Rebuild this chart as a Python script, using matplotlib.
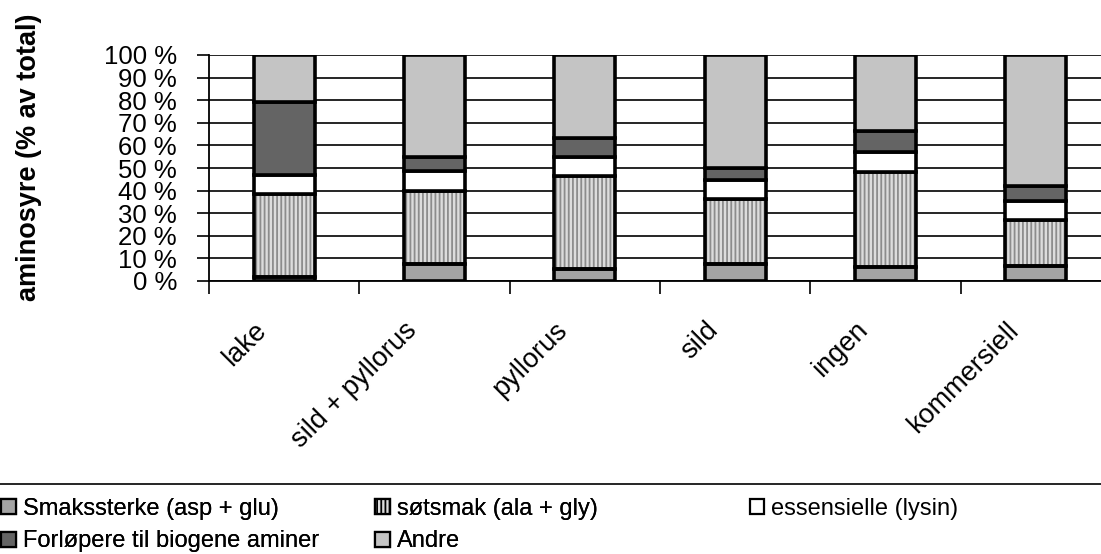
import matplotlib

matplotlib.use("Agg")
import matplotlib.pyplot as plt
from matplotlib.lines import Line2D
from matplotlib.patches import Patch

plt.rcParams["font.family"] = ["Liberation Sans", "DejaVu Sans"]
plt.rcParams["hatch.linewidth"] = 1.3

categories = ["lake", "sild + pyllorus", "pyllorus", "sild", "ingen", "kommersiell"]
series_names = [
    "Smakssterke (asp + glu)",
    "søtsmak (ala + gly)",
    "essensielle (lysin)",
    "Forløpere til biogene aminer",
    "Andre",
]
smakssterke = [1.8, 7.5, 5.3, 7.5, 6.0, 6.5]
sotsmak = [36.6, 32.5, 41.3, 28.7, 42.4, 20.4]
essensielle = [8.5, 8.8, 8.4, 8.5, 8.5, 8.4]
forlopere = [32.1, 5.9, 8.4, 5.2, 9.6, 6.8]
andre = [21.0, 45.3, 36.6, 50.1, 33.5, 57.9]
yticks = [0, 10, 20, 30, 40, 50, 60, 70, 80, 90, 100]

series = [smakssterke, sotsmak, essensielle, forlopere, andre]
faces = ["#a4a4a4", "#dcdcdc", "#ffffff", "#646464", "#c4c4c4"]
hatches = [None, "||||", None, None, None]

fig = plt.figure(figsize=(11.01, 5.54), dpi=100)
# plot area runs past the right edge of the picture, as in the original
ax = fig.add_axes([209 / 1101, 1 - 281 / 554, 902 / 1101, 226 / 554])

x = list(range(len(categories)))
width = 0.405
bottom = [0.0] * len(categories)
for vals, face, hatch in zip(series, faces, hatches):
    if hatch:
        ax.bar(x, vals, width, bottom=bottom, color=face, hatch=hatch,
               edgecolor="#8c8c8c", linewidth=0, zorder=3)
        ax.bar(x, vals, width, bottom=bottom, fill=False,
               edgecolor="black", linewidth=2.6, zorder=4)
    else:
        ax.bar(x, vals, width, bottom=bottom, color=face,
               edgecolor="black", linewidth=2.6, zorder=4)
    bottom = [b + v for b, v in zip(bottom, vals)]

ax.set_xlim(-0.5, len(categories) - 0.5)
ax.set_ylim(0, 100)
ax.set_yticks(yticks)
ax.set_yticklabels([f"{t} %" for t in yticks], fontsize=18.5)
ax.yaxis.grid(True, color="black", linewidth=1.2, zorder=0)
ax.set_axisbelow(True)

# category labels, rotated, ending just left of the bar centre
ax.set_xticks(x)
ax.set_xticklabels([""] * len(categories))
for i, cat in enumerate(categories):
    ax.annotate(cat, xy=(i, 0), xycoords=("data", "axes fraction"),
                xytext=(-22, -26), textcoords="offset points", fontsize=19.5,
                rotation=45, ha="right", va="top", rotation_mode="anchor",
                annotation_clip=False)
ax.set_xticks([i - 0.5 for i in range(len(categories) + 1)], minor=True)
ax.tick_params(axis="x", which="major", length=0)
ax.tick_params(axis="x", which="minor", length=9, width=1.2, direction="out")
ax.tick_params(axis="y", length=9, width=1.2, direction="out", pad=14)

for side in ["top", "right"]:
    ax.spines[side].set_visible(False)
ax.spines["left"].set_linewidth(1.3)
ax.spines["bottom"].set_linewidth(1.3)

fig.text(29 / 1101, 1 - 157 / 554, "aminosyre (% av total)", rotation=90,
         fontsize=19.5, fontweight="bold", ha="center", va="center")

# legend separator line
fig.add_artist(Line2D([0, 1], [1 - 484 / 554] * 2, transform=fig.transFigure,
                      color="black", linewidth=1.2))

handles = []
for name, face, hatch in zip(series_names, faces, hatches):
    handles.append(Patch(facecolor=face, edgecolor="black", linewidth=1.6,
                         hatch=hatch, label=name))

order = [0, 3, 1, 4]
leg_kw = dict(frameon=False, fontsize=17, handlelength=0.6, handleheight=0.6,
              handletextpad=0.3, borderaxespad=0, borderpad=0.2)
leg1 = fig.legend([handles[i] for i in order], [series_names[i] for i in order],
                  ncol=2, loc="upper left", bbox_to_anchor=(-0.003, 1 - 493 / 554),
                  columnspacing=2.4, labelspacing=0.45, **leg_kw)
fig.add_artist(leg1)
fig.legend([handles[2]], [series_names[2]], loc="upper left",
           bbox_to_anchor=(745 / 1101, 1 - 493 / 554), **leg_kw)

fig.savefig("out.png", dpi=100)
